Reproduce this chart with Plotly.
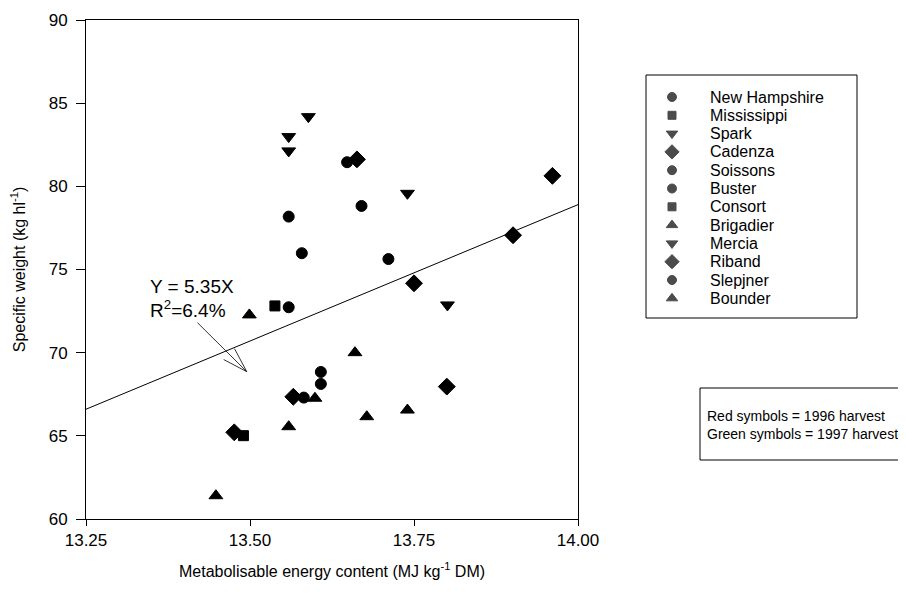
import plotly.graph_objects as go
import math

FONT = "Liberation Sans, Arial, sans-serif"

# ---- data ----
varieties = ["New Hampshire", "Mississippi", "Spark", "Cadenza", "Soissons", "Buster",
             "Consort", "Brigadier", "Mercia", "Riband", "Slepjner", "Bounder"]
symbols = ["circle", "square", "triangle-down", "diamond", "circle", "circle",
           "square", "triangle-up", "triangle-down", "diamond", "circle", "triangle-up"]

nh_x = [13.608, 13.579]; nh_y = [68.84, 75.98]
ms_x = [13.538];         ms_y = [72.81]
sp_x = [13.559, 13.740, 13.801]; sp_y = [82.13, 79.58, 72.87]
cd_x = [13.961, 13.901, 13.800]; cd_y = [80.63, 77.06, 67.96]
so_x = [13.711, 13.648]; so_y = [75.63, 81.45]
bu_x = [13.670, 13.582]; bu_y = [78.82, 67.30]
co_x = [13.490];         co_y = [65.01]
br_x = [13.660, 13.599, 13.678, 13.448]; br_y = [70.00, 67.26, 66.15, 61.40]
me_x = [13.589, 13.559]; me_y = [84.19, 82.99]
rb_x = [13.750, 13.476, 13.566, 13.663]; rb_y = [74.17, 65.21, 67.35, 81.62]
sl_x = [13.559, 13.608, 13.559]; sl_y = [78.18, 68.12, 72.73]
bo_x = [13.499, 13.559, 13.740]; bo_y = [72.27, 65.55, 66.55]

series_x = [nh_x, ms_x, sp_x, cd_x, so_x, bu_x, co_x, br_x, me_x, rb_x, sl_x, bo_x]
series_y = [nh_y, ms_y, sp_y, cd_y, so_y, bu_y, co_y, br_y, me_y, rb_y, sl_y, bo_y]

# fitted regression line
fit_x = [13.25, 14.00]
fit_y = [66.6, 78.9]

x_ticks = [13.25, 13.50, 13.75, 14.00]
x_tick_labels = ["13.25", "13.50", "13.75", "14.00"]
y_ticks = [60, 65, 70, 75, 80, 85, 90]

eq_text = "Y = 5.35X"
r2_text = "R<sup>2</sup>=6.4%"
note_text = "Red symbols = 1996 harvest<br>Green symbols = 1997 harvest"

# ---- geometry (figure pixels; page adds ~8px offset) ----
W, H = 898, 589
ML, MT, MB = 78, 12, 78
PLOT_W = 492
AREA_W = W - ML
MAIN_DOM = PLOT_W / AREA_W
AREA_H = H - MT - MB

def px_x(p):
    return (p - ML) / AREA_W

def px_y(p):
    return (H - MB - p) / AREA_H

fig = go.Figure()

fig.add_trace(go.Scatter(x=fit_x, y=fit_y, mode="lines",
                         line=dict(color="black", width=1), showlegend=False,
                         hoverinfo="skip"))

def msize(sym, legend=False):
    base = {"circle": 11, "square": 10, "diamond": 13}.get(sym, 12)
    return base - (2 if legend else 0)

for name, sym, xs, ys in zip(varieties, symbols, series_x, series_y):
    fig.add_trace(go.Scatter(
        x=xs, y=ys, mode="markers", name=name, showlegend=False,
        marker=dict(symbol=sym, size=msize(sym), color="black",
                    line=dict(color="black", width=1)),
    ))

# ---- custom legend on its own axes ----
LEG_X0, LEG_X1, LEG_Y0, LEG_Y1 = 638, 849, 67, 310
ROW0, ROW_STEP = 22, 18.3
n = len(varieties)
rows = list(range(n))
fig.add_trace(go.Scatter(
    x=[26] * n, y=rows, xaxis="x2", yaxis="y2", mode="markers", showlegend=False,
    hoverinfo="skip",
    marker=dict(symbol=symbols, size=[msize(s, True) for s in symbols], color="black",
                line=dict(color="black", width=1)),
))
for i, name in zip(rows, varieties):
    fig.add_annotation(x=62, y=i, xref="x2", yref="y2", text=name, showarrow=False,
                       xanchor="left", yanchor="middle",
                       font=dict(family=FONT, size=16, color="black"))
fig.add_shape(type="rect", xref="x2 domain", yref="y2 domain", x0=0, x1=1, y0=0, y1=1,
              line=dict(color="black", width=1))

# ---- note box ----
fig.add_shape(type="rect", xref="paper", yref="paper",
              x0=px_x(692), x1=px_x(905), y0=px_y(452), y1=px_y(380),
              line=dict(color="black", width=1))
fig.add_annotation(x=px_x(697), y=px_y(417), xref="paper", yref="paper", text=note_text,
                   showarrow=False, xanchor="left", yanchor="middle", align="left",
                   font=dict(family=FONT, size=14, color="black"))

# ---- regression label + arrow ----
fig.add_annotation(x=13.3445, y=73.95, xref="x", yref="y", text=eq_text,
                   showarrow=False, xanchor="left", yanchor="middle",
                   font=dict(family=FONT, size=19, color="black"))
fig.add_annotation(x=13.3445, y=72.6, xref="x", yref="y", text=r2_text,
                   showarrow=False, xanchor="left", yanchor="middle",
                   font=dict(family=FONT, size=19, color="black"))

tail = (13.420, 71.80)
tip = (13.495, 68.86)
fig.add_shape(type="line", x0=tail[0], y0=tail[1], x1=tip[0], y1=tip[1],
              xref="x", yref="y", line=dict(color="black", width=0.8))
pxu, pyu = 656.0, 16.63
dx = (tip[0] - tail[0]) * pxu
dy = (tip[1] - tail[1]) * pyu
ang = math.atan2(dy, dx)
for da in (0.3, -0.3):
    a = ang + math.pi + da
    L = 26
    fig.add_shape(type="line", x0=tip[0], y0=tip[1],
                  x1=tip[0] + L * math.cos(a) / pxu, y1=tip[1] + L * math.sin(a) / pyu,
                  xref="x", yref="y", line=dict(color="black", width=0.8))

fig.update_layout(
    width=W, height=H,
    margin=dict(l=ML, r=0, t=MT, b=MB, autoexpand=False),
    paper_bgcolor="white", plot_bgcolor="white",
    font=dict(family=FONT, size=16, color="black"),
    showlegend=False,
    xaxis=dict(domain=[0, MAIN_DOM], range=[13.25, 14.00], tickvals=x_ticks,
               ticktext=x_tick_labels, automargin=False,
               showgrid=False, zeroline=False, showline=True, linecolor="black",
               linewidth=1, mirror=True, ticks="outside", ticklen=6, tickcolor="black",
               tickfont=dict(size=17),
               title=dict(text="Metabolisable energy content (MJ kg<sup>-1</sup> DM)",
                          font=dict(size=16), standoff=16)),
    yaxis=dict(domain=[0, 1], range=[60, 90], tickvals=y_ticks, automargin=False,
               showgrid=False, zeroline=False, showline=True, linecolor="black",
               linewidth=1, mirror=True, ticks="outside", ticklen=9, tickcolor="black",
               tickfont=dict(size=17), ticklabelstandoff=5,
               title=dict(text="Specific weight (kg hl<sup>-1</sup>)",
                          font=dict(size=16), standoff=27)),
    xaxis2=dict(domain=[px_x(LEG_X0), px_x(LEG_X1)], range=[0, LEG_X1 - LEG_X0],
                visible=False, anchor="y2", fixedrange=True, automargin=False),
    yaxis2=dict(domain=[px_y(LEG_Y1), px_y(LEG_Y0)],
                range=[(LEG_Y1 - LEG_Y0 - ROW0) / ROW_STEP, -ROW0 / ROW_STEP],
                visible=False, anchor="x2", fixedrange=True, automargin=False),
)

fig.write_html("out.html")
